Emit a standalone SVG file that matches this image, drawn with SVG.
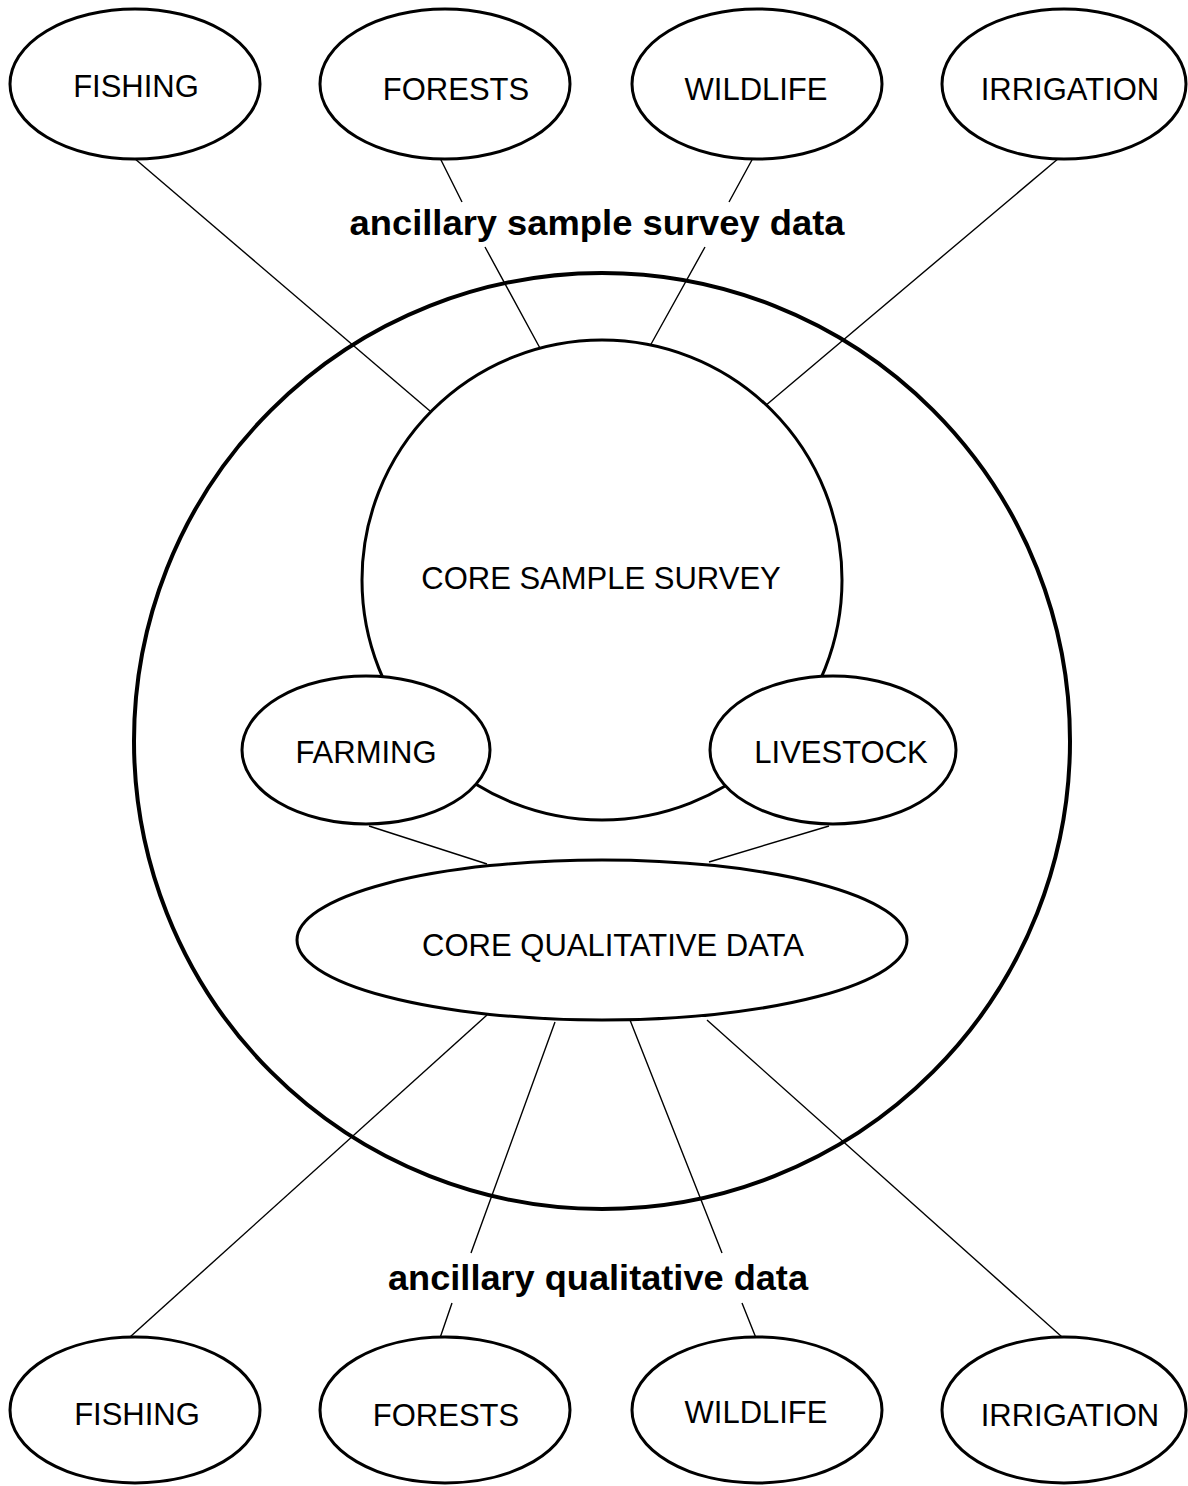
<svg xmlns="http://www.w3.org/2000/svg" width="1188" height="1486" viewBox="0 0 1188 1486">
<style>
  .node { fill: #fff; stroke: #000; stroke-width: 3; }
  .big { fill: none; stroke: #000; stroke-width: 4; }
  .lbl { font-family: "Liberation Sans", Arial, sans-serif; font-size: 31px; fill: #000; text-anchor: middle; }
  .bold { font-family: "Liberation Sans", Arial, sans-serif; font-size: 35px; font-weight: bold; fill: #000; text-anchor: middle; }
  .conn { stroke: #000; stroke-width: 1.4; fill: none; }
</style>
<rect width="1188" height="1486" fill="#fff"/>
<g id="outer-circle"><circle class="big" cx="602" cy="741" r="468"/></g>
<g id="connectors">
  <line class="conn" x1="134" y1="158" x2="430" y2="411"/>
  <path class="conn" d="M440 158 L462 202 M485 247 L541 350"/>
  <path class="conn" d="M753 158 L729 202 M705 247 L650 346"/>
  <line class="conn" x1="1059" y1="158" x2="765" y2="406"/>
  <line class="conn" x1="369" y1="826" x2="487" y2="864"/>
  <line class="conn" x1="829" y1="826" x2="709" y2="862"/>
  <line class="conn" x1="130" y1="1337" x2="487" y2="1015"/>
  <path class="conn" d="M440 1338 L452 1303 M471 1253 L555 1022"/>
  <path class="conn" d="M756 1338 L742 1303 M722 1253 L630 1020"/>
  <line class="conn" x1="1062" y1="1337" x2="707" y2="1020"/>
</g>
<g id="core-sample-survey"><circle class="node" cx="602" cy="580" r="240"/><text class="lbl" x="601" y="589">CORE SAMPLE SURVEY</text></g>
<g id="farming"><ellipse class="node" cx="366" cy="750" rx="124" ry="74"/><text class="lbl" x="366" y="763">FARMING</text></g>
<g id="livestock"><ellipse class="node" cx="833" cy="750" rx="123" ry="74"/><text class="lbl" x="841" y="763">LIVESTOCK</text></g>
<g id="core-qualitative-data"><ellipse class="node" cx="602" cy="940" rx="305" ry="80"/><text class="lbl" x="613" y="956">CORE QUALITATIVE DATA</text></g>
<g id="top-fishing"><ellipse class="node" cx="135" cy="84" rx="125" ry="75"/><text class="lbl" x="136" y="97">FISHING</text></g>
<g id="top-forests"><ellipse class="node" cx="445" cy="84" rx="125" ry="75"/><text class="lbl" x="456" y="100">FORESTS</text></g>
<g id="top-wildlife"><ellipse class="node" cx="757" cy="84" rx="125" ry="75"/><text class="lbl" x="756" y="100">WILDLIFE</text></g>
<g id="top-irrigation"><ellipse class="node" cx="1064" cy="84" rx="122" ry="75"/><text class="lbl" x="1070" y="100">IRRIGATION</text></g>
<g id="label-top"><text class="bold" x="597" y="235" textLength="495" lengthAdjust="spacingAndGlyphs">ancillary sample survey data</text></g>
<g id="label-bottom"><text class="bold" x="598" y="1290" textLength="420" lengthAdjust="spacingAndGlyphs">ancillary qualitative data</text></g>
<g id="bottom-fishing"><ellipse class="node" cx="135" cy="1410" rx="125" ry="73"/><text class="lbl" x="137" y="1425">FISHING</text></g>
<g id="bottom-forests"><ellipse class="node" cx="445" cy="1410" rx="125" ry="73"/><text class="lbl" x="446" y="1426">FORESTS</text></g>
<g id="bottom-wildlife"><ellipse class="node" cx="757" cy="1410" rx="125" ry="73"/><text class="lbl" x="756" y="1423">WILDLIFE</text></g>
<g id="bottom-irrigation"><ellipse class="node" cx="1064" cy="1410" rx="122" ry="73"/><text class="lbl" x="1070" y="1426">IRRIGATION</text></g>
</svg>
